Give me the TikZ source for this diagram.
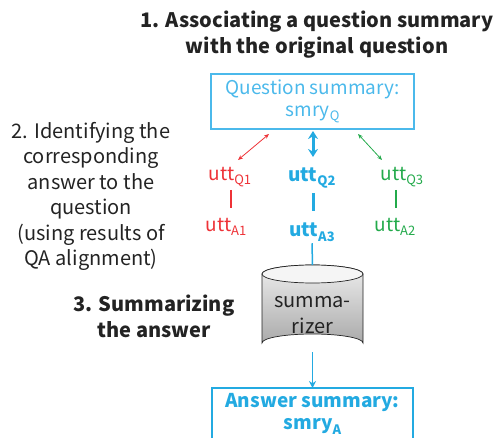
\documentclass[tikz,border=0pt]{standalone}
\usepackage{fontspec}
\setmainfont{Noto Sans CJK JP}
\usetikzlibrary{arrows.meta,calc}

\definecolor{qblue}{RGB}{75,185,235}
\definecolor{ablue}{RGB}{35,170,225}
\definecolor{ured}{RGB}{238,50,55}
\definecolor{ugreen}{RGB}{35,170,75}
\definecolor{ink}{RGB}{35,35,35}
\definecolor{cylhi}{RGB}{238,238,238}
\definecolor{cyllo}{RGB}{170,170,170}

% subscript set in the running font
\newcommand\lowsub[1]{\raisebox{-0.45ex}{\fontsize{13}{13}\selectfont #1}}

\begin{document}
\begin{tikzpicture}[x=1pt,y=-1pt,
  every node/.style={inner sep=0pt,outer sep=0pt},
  stepnote/.style={align=center,text=ink,font=\fontsize{20}{25.4}\selectfont},
  stepbold/.style={stepnote,font=\fontsize{20}{26}\selectfont\bfseries},
  sumbox/.style={draw,line width=1.2pt,minimum width=203pt,minimum height=55pt,align=center},
  uttlabel/.style={font=\fontsize{19}{19}\selectfont},
  linkarrow/.style={line width=0.8pt,{Stealth[length=5pt,width=4pt]}-{Stealth[length=5pt,width=4pt]}}
]
\useasboundingbox (0,0) rectangle (500,438);

% step captions
\node[stepbold] (step1) at (317,35) {1. Associating a question summary\\with the original question};
\node[stepnote] (step2) at (91,196.5) {2. Identifying the\\corresponding\\answer to the\\question\\(using results of\\QA alignment)};
\node[stepbold] (step3) at (154,316) {3. Summarizing\\the answer};

% question summary box
\node[sumbox,draw=qblue,text=qblue,font=\fontsize{19}{22}\selectfont] (sumQ) at (312.5,101.5)
  {Question summary:\\smry\lowsub{Q}};

% utterances
\node[uttlabel,text=ured] (uQ1) at (230,177) {utt\lowsub{Q1}};
\node[uttlabel,text=ured] (uA1) at (226,227) {utt\lowsub{A1}};
\node[uttlabel,text=ablue,font=\fontsize{19}{19}\selectfont\bfseries] (uQ2) at (312,178) {utt\lowsub{\bfseries Q2}};
\node[uttlabel,text=ablue,font=\fontsize{19}{19}\selectfont\bfseries] (uA3) at (312,232) {utt\lowsub{\bfseries A3}};
\node[uttlabel,text=ugreen] (uQ3) at (402,177) {utt\lowsub{Q3}};
\node[uttlabel,text=ugreen] (uA2) at (395,227) {utt\lowsub{A2}};

% arrow end points
\coordinate (rT) at (269,134);
\coordinate (rB) at (238,160);
\coordinate (bT) at (313,131);
\coordinate (bB) at (313,157);
\coordinate (gT) at (358,134);
\coordinate (gB) at (382,160);

\draw[linkarrow,ured] (rB) -- (rT);
\draw[linkarrow,ugreen] (gT) -- (gB);
\draw[ablue,line width=3pt,{Stealth[length=8pt,width=10pt]}-{Stealth[length=8pt,width=10pt]}] (bB) -- (bT);

% question-answer pairs
\draw[ured,line width=1.3pt] (231,190) -- (231,208);
\draw[ablue,line width=3pt] (313,193) -- (313,211);
\draw[ugreen,line width=1.3pt] (396,190) -- (396,208);

% summarizer cylinder
\coordinate (cylTop) at (312.5,274);
\coordinate (cylBot) at (312.5,343);
\shade[top color=cylhi,bottom color=cyllo,draw=ink,line width=0.7pt]
  (262,274) -- (262,343) arc[start angle=180,end angle=360,x radius=50.5,y radius=9]
  -- (363,274) arc[start angle=0,end angle=180,x radius=50.5,y radius=-9] -- cycle;
\filldraw[fill=white!92!gray,draw=ink,line width=0.7pt] (cylTop) ellipse[x radius=50.5,y radius=9];
\node[text=ink,align=center,font=\fontsize{20}{26}\selectfont] (summ) at (312.5,315) {summa-\\rizer};

% answer summary box (runs off the lower edge)
\begin{scope}
\clip (0,0) rectangle (500,438);
\draw[ablue,line width=1.2pt] (212,450) -- (212,388) -- (413,388) -- (413,450);
\end{scope}
\node[text=ablue,align=center,font=\fontsize{19}{22}\selectfont\bfseries] (sumA) at (312.5,414)
  {Answer summary:\\smry\lowsub{\bfseries A}};
\coordinate (sumAtop) at (312.5,388);

% flow through the summarizer
\draw[ablue,line width=1.5pt] (uA3.south) ++(0,2) -- (312.5,265);
\draw[ablue,line width=1.5pt,-{Stealth[length=7pt,width=7pt]}] (312.5,352) -- (sumAtop);
\end{tikzpicture}
\end{document}
